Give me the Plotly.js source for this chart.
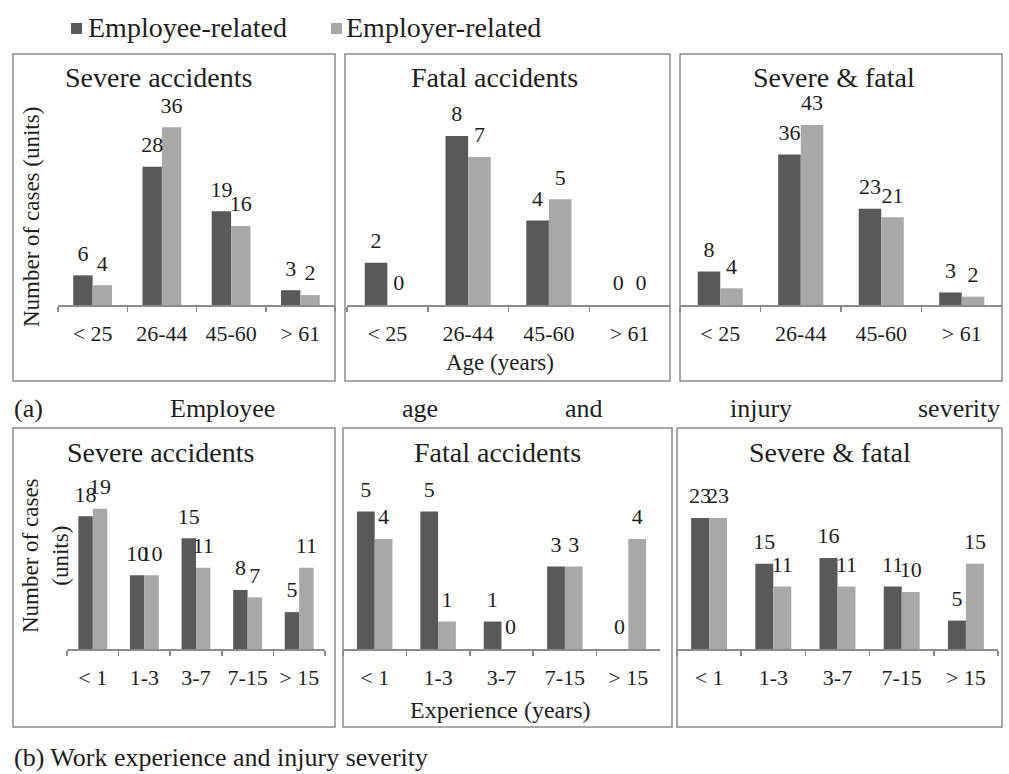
<!DOCTYPE html>
<html><head><meta charset="utf-8">
<script src="https://cdn.plot.ly/plotly-3.0.1.min.js"></script>
<style>html,body{margin:0;padding:0;background:#fff}#chart{width:1009px;height:774px}</style>
</head><body><div id="chart"></div>
<script>
// ---- data ----
const ageCategories = ['< 25', '26-44', '45-60', '> 61'];
const expCategories = ['< 1', '1-3', '3-7', '7-15', '> 15'];
const seriesNames = ['Employee-related', 'Employer-related'];
const ageSevereEmployee = [6, 28, 19, 3];
const ageSevereEmployer = [4, 36, 16, 2];
const ageFatalEmployee = [2, 8, 4, 0];
const ageFatalEmployer = [0, 7, 5, 0];
const ageBothEmployee = [8, 36, 23, 3];
const ageBothEmployer = [4, 43, 21, 2];
const expSevereEmployee = [18, 10, 15, 8, 5];
const expSevereEmployer = [19, 10, 11, 7, 11];
const expFatalEmployee = [5, 5, 1, 3, 0];
const expFatalEmployer = [4, 1, 0, 3, 4];
const expBothEmployee = [23, 15, 16, 11, 5];
const expBothEmployer = [23, 11, 11, 10, 15];
const panelTitles = ['Severe accidents', 'Fatal accidents', 'Severe & fatal'];
const yAxisTitle = 'Number of cases (units)';
const yAxisTitleWrapped = 'Number of cases<br>(units)';
const ageAxisTitle = 'Age (years)';
const expAxisTitle = 'Experience (years)';
const captionA = ['(a)', 'Employee', 'age', 'and', 'injury', 'severity'];
const captionB = '(b) Work experience and injury severity';

// ---- styling / layout helpers ----
const W = 1009, H = 774;
const px = x => x / W;
const py = y => 1 - y / H;
const FONT = 'Liberation Serif';
const TXT = '#1e1e1e';
const DARK = '#595959', LIGHT = '#a8a8a8', BORDER = '#8c8c8c';

const panels = [
  {cats: ageCategories, a: ageSevereEmployee, b: ageSevereEmployer, title: panelTitles[0], x0: 58, x1: 335, row: 0, ymax: 41.5, tx: 158},
  {cats: ageCategories, a: ageFatalEmployee, b: ageFatalEmployer, title: panelTitles[1], x0: 347, x1: 670, row: 0, ymax: 9.7, tx: 494},
  {cats: ageCategories, a: ageBothEmployee, b: ageBothEmployer, title: panelTitles[2], x0: 680, x1: 1002, row: 0, ymax: 49, tx: 834},
  {cats: expCategories, a: expSevereEmployee, b: expSevereEmployer, title: panelTitles[0], x0: 67, x1: 325, row: 1, ymax: 22.9, tx: 160},
  {cats: expCategories, a: expFatalEmployee, b: expFatalEmployer, title: panelTitles[1], x0: 343, x1: 660, row: 1, ymax: 6.15, tx: 497},
  {cats: expCategories, a: expBothEmployee, b: expBothEmployer, title: panelTitles[2], x0: 677, x1: 998, row: 1, ymax: 29.7, tx: 830}
];
const rows = [
  {base: 305, top: 100, title: 77, boxTop: 54, boxBottom: 381, axTitle: 362},
  {base: 649, top: 480, title: 452, boxTop: 428, boxBottom: 727, axTitle: 710}
];
const boxes = [[13, 335], [345, 670], [680, 1002], [13, 335], [343, 672], [677, 1002]];

const traces = [];
const layout = {
  width: W, height: H,
  margin: {l: 0, r: 0, t: 0, b: 0},
  paper_bgcolor: '#ffffff', plot_bgcolor: 'rgba(0,0,0,0)',
  showlegend: false,
  barmode: 'group', bargap: 0.44,
  scattermode: 'group', scattergap: 0.44,
  font: {family: FONT, color: TXT},
  annotations: [], shapes: []
};

panels.forEach((p, i) => {
  const s = i === 0 ? '' : String(i + 1);
  const r = rows[p.row];
  [[p.a, DARK, seriesNames[0]], [p.b, LIGHT, seriesNames[1]]].forEach(([vals, col, nm]) => {
    traces.push({type: 'bar', x: p.cats, y: vals, name: nm, xaxis: 'x' + s, yaxis: 'y' + s,
      marker: {color: col, line: {width: 0}}, hoverinfo: 'x+y+name'});
  });
  [[p.a, seriesNames[0]], [p.b, seriesNames[1]]].forEach(([vals, nm]) => {
    traces.push({type: 'scatter', mode: 'markers+text', x: p.cats, y: vals, name: nm,
      xaxis: 'x' + s, yaxis: 'y' + s, text: vals.map(String), textposition: 'top center',
      marker: {size: 13, opacity: 0}, textfont: {family: FONT, size: 22, color: TXT},
      cliponaxis: false, hoverinfo: 'skip'});
  });
  layout['xaxis' + s] = {
    domain: [px(p.x0), px(p.x1)], anchor: 'y' + s, type: 'category',
    showline: true, linecolor: BORDER, linewidth: 1.5,
    ticks: 'outside', tickson: 'boundaries', ticklen: 5, tickcolor: BORDER, tickwidth: 1.5,
    tickfont: {family: FONT, size: 22, color: TXT}, ticklabelstandoff: 8,
    showgrid: false, zeroline: false, fixedrange: true
  };
  layout['yaxis' + s] = {
    domain: [py(r.base), py(r.top)], anchor: 'x' + s, range: [0, p.ymax],
    visible: false, showgrid: false, zeroline: false, fixedrange: true
  };
  layout.annotations.push({xref: 'paper', yref: 'paper', x: px(p.tx), y: py(r.title),
    text: p.title, showarrow: false, xanchor: 'center', yanchor: 'middle',
    font: {family: FONT, size: 28, color: TXT}});
  const b = boxes[i];
  layout.shapes.push({type: 'rect', xref: 'paper', yref: 'paper',
    x0: px(b[0]), x1: px(b[1]), y0: py(r.boxBottom), y1: py(r.boxTop),
    line: {color: BORDER, width: 1.5}, fillcolor: 'rgba(0,0,0,0)'});
});

// axis titles
layout.annotations.push({xref: 'paper', yref: 'paper', x: px(32), y: py(217), text: yAxisTitle,
  textangle: -90, showarrow: false, xanchor: 'center', yanchor: 'middle', font: {family: FONT, size: 23, color: TXT}});
layout.annotations.push({xref: 'paper', yref: 'paper', x: px(45), y: py(556), text: yAxisTitleWrapped,
  textangle: -90, showarrow: false, xanchor: 'center', yanchor: 'middle', font: {family: FONT, size: 23, color: TXT}});
layout.annotations.push({xref: 'paper', yref: 'paper', x: px(500), y: py(rows[0].axTitle), text: ageAxisTitle,
  showarrow: false, xanchor: 'center', yanchor: 'middle', font: {family: FONT, size: 23, color: TXT}});
layout.annotations.push({xref: 'paper', yref: 'paper', x: px(500), y: py(rows[1].axTitle), text: expAxisTitle,
  showarrow: false, xanchor: 'center', yanchor: 'middle', font: {family: FONT, size: 24, color: TXT}});

// legend
[[71, 86, DARK, seriesNames[0]], [331, 344, LIGHT, seriesNames[1]]].forEach(([sx, tx, col, nm]) => {
  layout.shapes.push({type: 'rect', xref: 'paper', yref: 'paper', x0: px(sx), x1: px(sx + 11),
    y0: py(34), y1: py(23), line: {width: 0}, fillcolor: col});
  layout.annotations.push({xref: 'paper', yref: 'paper', x: px(tx), y: py(28), text: nm,
    showarrow: false, xanchor: 'left', yanchor: 'middle', font: {family: FONT, size: 28, color: TXT}});
});

// captions (justified line, equal word spacing)
const capX = [12, 222, 420, 584, 761, 1002];
captionA.forEach((w, k) => {
  layout.annotations.push({xref: 'paper', yref: 'paper', x: px(capX[k]), y: py(408), text: w,
    showarrow: false, xanchor: k === 0 ? 'left' : (k === captionA.length - 1 ? 'right' : 'center'), yanchor: 'middle',
    font: {family: FONT, size: 26, color: TXT}});
});
layout.annotations.push({xref: 'paper', yref: 'paper', x: px(12), y: py(757), text: captionB,
  showarrow: false, xanchor: 'left', yanchor: 'middle', font: {family: FONT, size: 26, color: TXT}});

Plotly.newPlot('chart', traces, layout, {staticPlot: true, displayModeBar: false});
</script>
</body></html>
